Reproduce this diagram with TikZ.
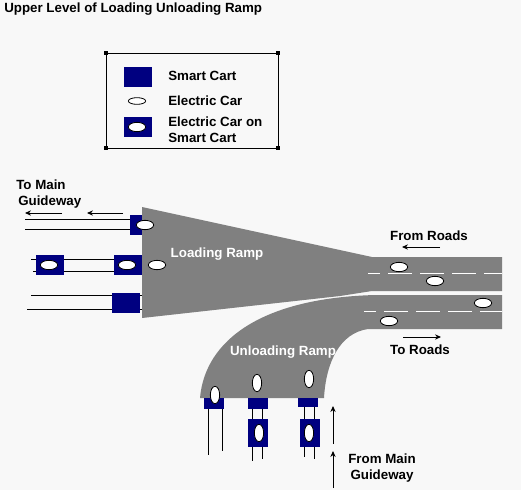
\documentclass[tikz,border=0pt]{standalone}
\usepackage{fontspec}
\setmainfont{Liberation Sans}
\usetikzlibrary{arrows.meta, shapes.geometric}
\definecolor{cartblue}{HTML}{000080}
\definecolor{rampgray}{HTML}{808080}
\definecolor{paper}{HTML}{F8F8F8}

\begin{document}
\begin{tikzpicture}[
		x=0.75pt, y=-0.75pt,
		>={Stealth[length=4.5pt,width=4pt]},
		labeltext/.style={font=\bfseries\fontsize{10}{12}\selectfont, text=black, inner sep=0pt},
		ramptext/.style={labeltext, text=white},
		cart/.style={fill=cartblue, inner sep=0pt, minimum width=21pt, minimum height=15pt},
		ecar/.style={ellipse, draw=black, fill=white, inner sep=0pt, minimum width=13pt, minimum height=7pt, line width=0.6pt},
		upcar/.style={ecar, minimum width=7pt, minimum height=13pt},
		rail/.style={draw=black, line width=0.75pt},
		handle/.style={fill=black, inner sep=0pt, minimum size=3pt},
		lanemark/.style={draw=white, line width=0.75pt, dash pattern=on 18pt off 6pt, dash phase=9pt}
		]
		
		% Page
		\fill[paper] (0,0) rectangle (521,490);
		\useasboundingbox (0,0) rectangle (521,490);
		\node[labeltext, anchor=west] (title) at (4,9) {Upper Level of Loading Unloading Ramp};
		
		% ==========================================
		% Legend
		% ==========================================
		\draw[line width=0.75pt] (106,53) rectangle (278,148);
		\node[handle] (h1) at (106,53) {};
		\node[handle] (h2) at (278,53) {};
		\node[handle] (h3) at (106,148) {};
		\node[handle] (h4) at (278,148) {};
		\node[cart] (keycart) at (138,77) {};
		\node[ecar, minimum height=5pt] (keycar) at (137,101) {};
		\node[cart] (keyboth) at (138,127) {};
		\node[ecar] (keybothcar) at (137,127) {};
		\node[labeltext, anchor=west] (keycarttext) at (168,76) {Smart Cart};
		\node[labeltext, anchor=west] (keycartext) at (168,101) {Electric Car};
		\node[labeltext, anchor=west, align=left] (keybothtext) at (168,130) {Electric Car on\\Smart Cart};
		
		% ==========================================
		% Rails
		% ==========================================
		\draw[rail] (25,219) -- (131,219);
		\draw[rail] (25,229) -- (131,229);
		\draw[rail] (31,259) -- (115,259);
		\draw[rail] (33,271) -- (115,271);
		\draw[rail] (31,295) -- (142,295);
		\draw[rail] (27,309) -- (142,309);
		\draw[rail] (208,400) -- (208,455);
		\draw[rail] (222,400) -- (222,451);
		\draw[rail] (252,400) -- (252,461);
		\draw[rail] (262,400) -- (262,459);
		\draw[rail] (304,400) -- (304,457);
		\draw[rail] (314,400) -- (314,459);
		
		% ==========================================
		% Ramps and roads
		% ==========================================
		\fill[rampgray] (142,207) -- (372,257) -- (502,257) -- (502,291) -- (372,291) -- (340,296) -- (142,318) -- cycle;
		\fill[rampgray] (200,398) .. controls (205,340) and (262,298) .. (375,295) -- (502,295) -- (502,329) -- (368,329) .. controls (340,333) and (326,362) .. (324,398) -- cycle;
		\draw[lanemark] (368,273) -- (502,273);
		\draw[lanemark] (364,311) -- (502,311);
		\node[ramptext] (loading) at (217,254) {Loading Ramp};
		\node[ramptext] (unloading) at (283,352) {Unloading Ramp};
		
		% ==========================================
		% Carts
		% ==========================================
		\node[cart, minimum width=9pt] (cart1) at (136,225) {};
		\node[cart] (cart2) at (50,265) {};
		\node[cart] (cart3) at (128,265) {};
		\node[cart] (cart4) at (126,303) {};
		\node[cart, minimum width=15pt, minimum height=8.25pt] (cart5) at (214,403.5) {};
		\node[cart, minimum width=15pt, minimum height=8.25pt] (cart6) at (258,403.5) {};
		\node[cart, minimum width=15pt, minimum height=6.75pt] (cart7) at (308,402.5) {};
		\node[cart, minimum width=15pt, minimum height=21pt] (cart8) at (258,433) {};
		\node[cart, minimum width=15pt, minimum height=21pt] (cart9) at (310,433) {};
		
		% ==========================================
		% Electric cars
		% ==========================================
		\node[ecar] (car1) at (145,225) {};
		\node[ecar] (car2) at (49,265) {};
		\node[ecar] (car3) at (127,265) {};
		\node[ecar] (car4) at (157,265) {};
		\node[ecar] (car5) at (399,267) {};
		\node[ecar] (car6) at (435,281) {};
		\node[ecar] (car7) at (483,303) {};
		\node[ecar] (car8) at (389,321) {};
		\node[upcar] (car9) at (215,395) {};
		\node[upcar] (car10) at (257,383) {};
		\node[upcar] (car11) at (309,379) {};
		\node[upcar] (car12) at (259,433) {};
		\node[upcar] (car13) at (309,433) {};
		
		% ==========================================
		% Directions
		% ==========================================
		\node[labeltext, anchor=west, align=left] (tomain) at (16,194) {To Main\\\hspace*{1.5pt}Guideway};
		\node[labeltext] (fromroads) at (429,236) {From Roads};
		\node[labeltext] (toroads) at (420,350) {To Roads};
		\node[labeltext, align=center] (frommain) at (382,468) {From Main\\Guideway};
		
		\coordinate (a1) at (62,213);
		\coordinate (a2) at (25,213);
		\coordinate (a3) at (123,213);
		\coordinate (a4) at (87,213);
		\coordinate (a5) at (440,247);
		\coordinate (a6) at (402,247);
		\coordinate (a7) at (403,337);
		\coordinate (a8) at (441,337);
		\coordinate (a9) at (333,444);
		\coordinate (a10) at (333,406);
		\coordinate (a11) at (333,488);
		\coordinate (a12) at (333,451);
		\draw[->, line width=0.75pt] (a1) -- (a2);
		\draw[->, line width=0.75pt] (a3) -- (a4);
		\draw[->, line width=0.75pt] (a5) -- (a6);
		\draw[->, line width=0.75pt] (a7) -- (a8);
		\draw[->, line width=0.75pt] (a9) -- (a10);
		\draw[->, line width=0.75pt] (a11) -- (a12);
		
	\end{tikzpicture}
\end{document}
